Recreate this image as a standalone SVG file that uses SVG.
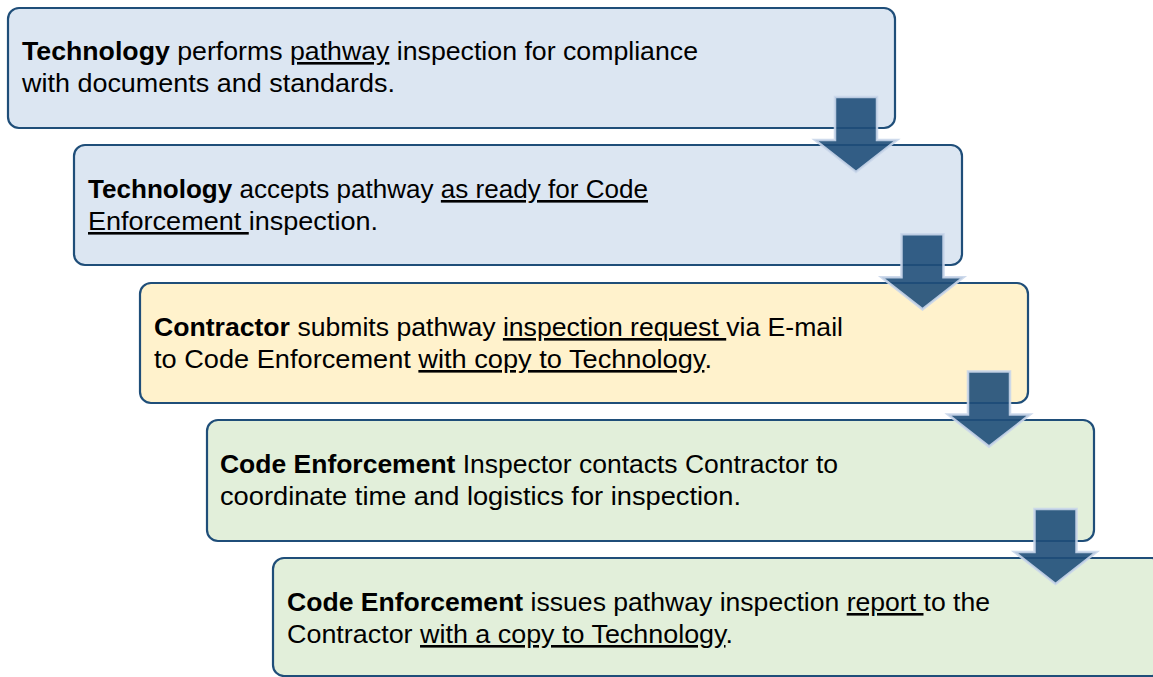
<svg xmlns="http://www.w3.org/2000/svg" width="1153" height="677" viewBox="0 0 1153 677">
<style>
.box{stroke:#1f4e79;stroke-width:2.2}
.blue{fill:#dce6f2}
.yellow{fill:#fff2cc}
.green{fill:#e2efda}
.t{font-family:"Liberation Sans",Arial,sans-serif;font-size:26px;fill:#000}
.b{font-weight:bold}
.u{text-decoration:underline}
.arrow{fill:#1f4e79;fill-opacity:0.9;stroke:#c9d6ea;stroke-width:2.5;stroke-opacity:0.9;stroke-linejoin:miter}
</style>
<defs>
<path id="arr" d="M835,97 H877 V140 H897 L856,172 L815,140 H835 Z"/>
</defs>
<rect width="1153" height="677" fill="#fff"/>
<g id="node1">
<rect class="box blue" x="8" y="8" width="887" height="120" rx="11"/>
<text class="t" x="22" y="60" textLength="676" lengthAdjust="spacingAndGlyphs"><tspan class="b">Technology</tspan> performs <tspan class="u">pathway</tspan> inspection for compliance</text>
<text class="t" x="22" y="92" textLength="373" lengthAdjust="spacingAndGlyphs">with documents and standards.</text>
</g>
<g id="node2">
<rect class="box blue" x="74" y="145" width="888" height="120" rx="11"/>
<text class="t" x="88" y="198" textLength="560" lengthAdjust="spacingAndGlyphs"><tspan class="b">Technology</tspan> accepts pathway <tspan class="u">as ready for Code</tspan></text>
<text class="t" x="88" y="230" textLength="290" lengthAdjust="spacingAndGlyphs"><tspan class="u">Enforcement </tspan>inspection.</text>
</g>
<g id="node3">
<rect class="box yellow" x="140" y="283" width="888" height="120" rx="11"/>
<text class="t" x="154" y="336" textLength="689" lengthAdjust="spacingAndGlyphs"><tspan class="b">Contractor</tspan> submits pathway <tspan class="u">inspection request </tspan>via E-mail</text>
<text class="t" x="154" y="368" textLength="558" lengthAdjust="spacingAndGlyphs">to Code Enforcement <tspan class="u">with copy to Technology</tspan>.</text>
</g>
<g id="node4">
<rect class="box green" x="207" y="420" width="887" height="121" rx="11"/>
<text class="t" x="220" y="473" textLength="618" lengthAdjust="spacingAndGlyphs"><tspan class="b">Code Enforcement</tspan> Inspector contacts Contractor to</text>
<text class="t" x="220" y="505" textLength="521" lengthAdjust="spacingAndGlyphs">coordinate time and logistics for inspection.</text>
</g>
<g id="node5">
<rect class="box green" x="273" y="558" width="890" height="118" rx="11"/>
<text class="t" x="287" y="611" textLength="703" lengthAdjust="spacingAndGlyphs"><tspan class="b">Code Enforcement</tspan> issues pathway inspection <tspan class="u">report </tspan>to the</text>
<text class="t" x="287" y="643" textLength="446" lengthAdjust="spacingAndGlyphs">Contractor <tspan class="u">with a copy to Technology</tspan>.</text>
</g>
<g id="connectors">
<use href="#arr" class="arrow"/>
<use href="#arr" class="arrow" transform="translate(66.5,137.3)"/>
<use href="#arr" class="arrow" transform="translate(133,274.6)"/>
<use href="#arr" class="arrow" transform="translate(199.5,411.9)"/>
</g>
</svg>
